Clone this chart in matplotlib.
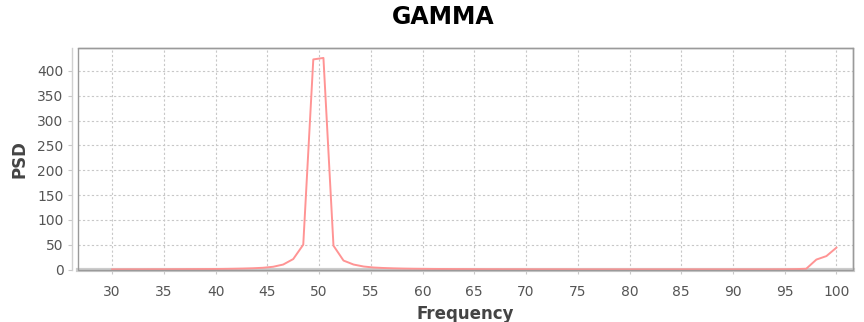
import matplotlib
matplotlib.use("Agg")
import matplotlib.pyplot as plt
from matplotlib.patches import Rectangle

# frequency bins (Hz) and PSD values
freqs = [30.00, 30.97, 31.94, 32.92, 33.89, 34.86, 35.83, 36.81, 37.78, 38.75,
         39.72, 40.69, 41.67, 42.64, 43.61, 44.58, 45.56, 46.53, 47.50, 48.47,
         49.44, 50.42, 51.39, 52.36, 53.33, 54.31, 55.28, 56.25, 57.22, 58.19,
         59.17, 60.14, 61.11, 62.08, 63.06, 64.03, 65.00, 65.97, 66.94, 67.92,
         68.89, 69.86, 70.83, 71.81, 72.78, 73.75, 74.72, 75.69, 76.67, 77.64,
         78.61, 79.58, 80.56, 81.53, 82.50, 83.47, 84.44, 85.42, 86.39, 87.36,
         88.33, 89.31, 90.28, 91.25, 92.22, 93.19, 94.17, 95.14, 96.11, 97.08,
         98.06, 99.03, 100.00]
psd = [0.3, 0.3, 0.4, 0.4, 0.5, 0.5, 0.6, 0.7, 0.8, 0.9,
       1.0, 1.2, 1.5, 1.9, 2.5, 3.5, 5.5, 10, 21, 50,
       423, 426, 48, 18, 10, 6, 4, 3, 2.3, 1.8,
       1.5, 1.3, 1.1, 1.0, 0.9, 0.8, 0.7, 0.6, 0.6, 0.5,
       0.5, 0.5, 0.4, 0.4, 0.4, 0.4, 0.3, 0.3, 0.3, 0.3,
       0.3, 0.3, 0.3, 0.3, 0.3, 0.3, 0.3, 0.3, 0.3, 0.3,
       0.3, 0.3, 0.3, 0.3, 0.3, 0.3, 0.4, 0.5, 0.8, 1.5,
       20, 27, 44]
xticks = list(range(30, 101, 5))
yticks = list(range(0, 401, 50))

fig = plt.figure(figsize=(8.64, 3.22), dpi=100)
ax = fig.add_axes([78 / 864, 1 - 270 / 322, (853 - 78) / 864, (270 - 48) / 322])

ax.plot(freqs, psd, color="#ff9494", linewidth=1.4, zorder=3)

ax.set_xlim(26.7, 101.6)
ax.set_ylim(-1, 446)
ax.set_xticks(xticks)
ax.set_yticks(yticks)
ax.grid(True, color="#c8c8c8", linestyle=(0, (2, 2)), linewidth=0.8)

for s in ["top", "right"]:
    ax.spines[s].set_color("#9a9a9a")
    ax.spines[s].set_linewidth(1.0)
ax.spines["left"].set_position(("outward", 4))
ax.spines["left"].set_color("#d0d0d0")
ax.spines["left"].set_linewidth(1.0)
ax.spines["bottom"].set_color("#cccccc")
ax.spines["bottom"].set_linewidth(3.0)
ax.add_patch(Rectangle((0, 0), 1, 1, transform=ax.transAxes, fill=False,
                       edgecolor="#9a9a9a", linewidth=1.0, clip_on=False, zorder=4))

ax.tick_params(axis="both", colors="#c8c8c8", length=3, width=0.8,
               labelcolor="#555555", labelsize=10)
ax.tick_params(axis="x", pad=8)
ax.set_xlabel("Frequency", fontsize=12, fontweight="bold", color="#444444", labelpad=4)
ax.set_ylabel("PSD", fontsize=12, fontweight="bold", color="#444444", labelpad=6)
fig.suptitle("GAMMA", fontsize=17, fontweight="bold", x=0.513, y=0.985)

fig.savefig("out.png", dpi=100)
